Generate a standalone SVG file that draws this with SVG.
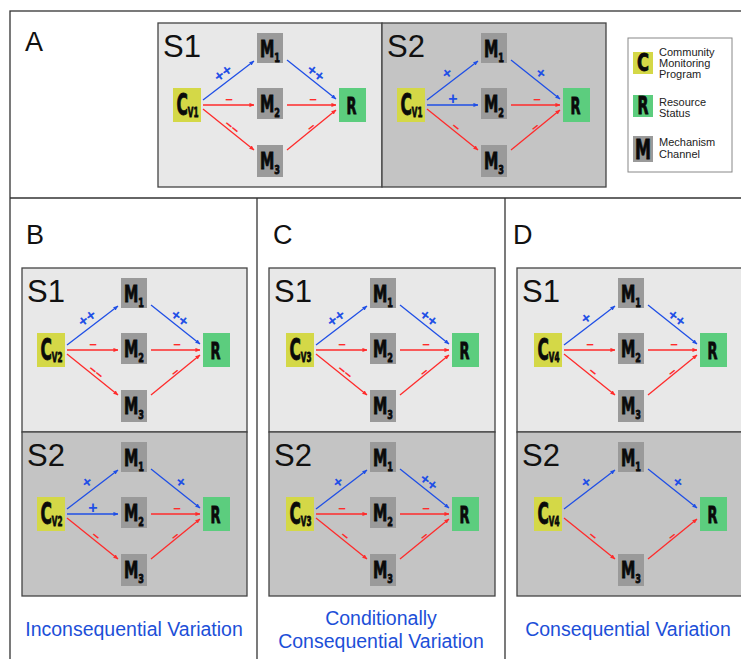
<svg xmlns="http://www.w3.org/2000/svg" width="741" height="659" viewBox="0 0 741 659">
<defs>
<style>
.frame{fill:none;stroke:#333;stroke-width:1.3}
.bg1{fill:#e8e8e8;stroke:#444;stroke-width:1.3}
.bg2{fill:#c4c4c4;stroke:#444;stroke-width:1.3}
.sl{font-family:"Liberation Sans",Arial,sans-serif;font-size:31px;fill:#111}
.pl{font-family:"Liberation Sans",Arial,sans-serif;font-size:27px;fill:#111}
.c{fill:#d4d847}
.r{fill:#5ccd7e}
.m{fill:#9a9a9a}
.nl{font-family:"Liberation Sans Narrow","DejaVu Sans Condensed","Liberation Sans",sans-serif;font-weight:bold;fill:#0a0a0a;stroke:#0a0a0a;stroke-width:0.8px}
.eb{stroke:#1f4fe6;stroke-width:1.3;fill:none;marker-end:url(#ab)}
.er{stroke:#ff2b2b;stroke-width:1.3;fill:none;marker-end:url(#ar)}
.lb{font-family:"Liberation Sans",Arial,sans-serif;font-size:16px;font-weight:bold;fill:#1f4fe6;text-anchor:middle;dominant-baseline:central}
.lr{font-family:"Liberation Sans",Arial,sans-serif;font-size:13px;font-weight:bold;fill:#ff2b2b;text-anchor:middle;dominant-baseline:central}
.lg{font-family:"Liberation Sans",Arial,sans-serif;font-size:11px;fill:#222}
.cap{font-family:"Liberation Sans",Arial,sans-serif;font-size:19.5px;fill:#1d4fd8;text-anchor:middle}
</style>
<marker id="ab" viewBox="0 0 6 6" refX="5.5" refY="3" markerWidth="5" markerHeight="5" markerUnits="userSpaceOnUse" orient="auto"><path d="M0,0.5 L6,3 L0,5.5z" fill="#1f4fe6"/></marker>
<marker id="ar" viewBox="0 0 6 6" refX="5.5" refY="3" markerWidth="5" markerHeight="5" markerUnits="userSpaceOnUse" orient="auto"><path d="M0,0.5 L6,3 L0,5.5z" fill="#ff2b2b"/></marker>
</defs>
<rect x="0" y="0" width="741" height="659" fill="#fff"/>
<g id="frame">
<rect class="frame" x="10" y="11" width="745" height="660"/>
<line class="frame" x1="10" y1="198" x2="741" y2="198"/>
<line class="frame" x1="257" y1="198" x2="257" y2="659"/>
<line class="frame" x1="505" y1="198" x2="505" y2="659"/>
<text class="pl" x="25" y="51">A</text>
<text class="pl" x="26" y="244">B</text>
<text class="pl" x="273" y="244">C</text>
<text class="pl" x="513" y="244">D</text>
</g>

<!-- Panel A S1 -->
<g id="A-S1" transform="translate(158,23)">
<rect class="bg1" x="0" y="0" width="224" height="164"/>
<text class="sl" x="5" y="34">S1</text>
<g id="A-S1-C"><rect class="c" x="15" y="65" width="28" height="34"/><text class="nl" x="18.5" y="92" font-size="30" textLength="22" lengthAdjust="spacingAndGlyphs">C<tspan font-size="14" dy="1.5">V1</tspan></text></g>
<g id="A-S1-M1"><rect class="m" x="99" y="10" width="26" height="30"/><text class="nl" x="102" y="33.5" font-size="23" textLength="20" lengthAdjust="spacingAndGlyphs">M<tspan font-size="13" dy="5">1</tspan></text></g>
<g id="A-S1-M2"><rect class="m" x="99" y="65" width="26" height="31"/><text class="nl" x="102" y="88.5" font-size="23" textLength="20" lengthAdjust="spacingAndGlyphs">M<tspan font-size="13" dy="5">2</tspan></text></g>
<g id="A-S1-M3"><rect class="m" x="99" y="122" width="26" height="32"/><text class="nl" x="102" y="145.5" font-size="23" textLength="20" lengthAdjust="spacingAndGlyphs">M<tspan font-size="13" dy="5.5">3</tspan></text></g>
<g id="A-S1-R"><rect class="r" x="181" y="65" width="27" height="34"/><text class="nl" x="188.5" y="90.5" font-size="23" textLength="10" lengthAdjust="spacingAndGlyphs">R</text></g>
<g id="A-S1-edges">
<line class="eb" x1="45" y1="77" x2="96" y2="38"/><line class="er" x1="45" y1="82" x2="96" y2="82"/><line class="er" x1="45" y1="86" x2="96" y2="127"/>
<line class="eb" x1="129" y1="37" x2="178" y2="76"/><line class="er" x1="129" y1="82" x2="178" y2="82"/><line class="er" x1="129" y1="127" x2="178" y2="87"/>
<text class="lb" transform="translate(65,50) rotate(-37)">++</text><text class="lr" transform="translate(71,76)">−</text><text class="lr" transform="translate(74,104) rotate(39)">−−</text>
<text class="lb" transform="translate(158,50) rotate(38)">++</text><text class="lr" transform="translate(155,76)">−</text><text class="lr" transform="translate(153,104) rotate(-39)">−</text>
</g>
</g>

<!-- Panel A S2 -->
<g id="A-S2" transform="translate(382,23)">
<rect class="bg2" x="0" y="0" width="224" height="164"/>
<text class="sl" x="5" y="34">S2</text>
<g id="A-S2-C"><rect class="c" x="15" y="65" width="28" height="34"/><text class="nl" x="18.5" y="92" font-size="30" textLength="22" lengthAdjust="spacingAndGlyphs">C<tspan font-size="14" dy="1.5">V1</tspan></text></g>
<g id="A-S2-M1"><rect class="m" x="99" y="10" width="26" height="30"/><text class="nl" x="102" y="33.5" font-size="23" textLength="20" lengthAdjust="spacingAndGlyphs">M<tspan font-size="13" dy="5">1</tspan></text></g>
<g id="A-S2-M2"><rect class="m" x="99" y="65" width="26" height="31"/><text class="nl" x="102" y="88.5" font-size="23" textLength="20" lengthAdjust="spacingAndGlyphs">M<tspan font-size="13" dy="5">2</tspan></text></g>
<g id="A-S2-M3"><rect class="m" x="99" y="122" width="26" height="32"/><text class="nl" x="102" y="145.5" font-size="23" textLength="20" lengthAdjust="spacingAndGlyphs">M<tspan font-size="13" dy="5.5">3</tspan></text></g>
<g id="A-S2-R"><rect class="r" x="181" y="65" width="27" height="34"/><text class="nl" x="188.5" y="90.5" font-size="23" textLength="10" lengthAdjust="spacingAndGlyphs">R</text></g>
<g id="A-S2-edges">
<line class="eb" x1="45" y1="77" x2="96" y2="38"/><line class="eb" x1="45" y1="82" x2="96" y2="82"/><line class="er" x1="45" y1="86" x2="96" y2="127"/>
<line class="eb" x1="129" y1="37" x2="178" y2="76"/><line class="er" x1="129" y1="82" x2="178" y2="82"/><line class="er" x1="129" y1="127" x2="178" y2="87"/>
<text class="lb" transform="translate(65,50) rotate(-37)">+</text><text class="lb" transform="translate(71,75)">+</text><text class="lr" transform="translate(74,104) rotate(39)">−</text>
<text class="lb" transform="translate(159,50) rotate(38)">+</text><text class="lr" transform="translate(155,76)">−</text><text class="lr" transform="translate(153,104) rotate(-39)">−</text>
</g>
</g>

<!-- Legend -->
<g id="legend">
<rect x="628" y="38" width="104" height="134" fill="#fff" stroke="#888" stroke-width="1"/>
<g id="legend-C"><rect class="c" x="633" y="52" width="20" height="22"/><text class="nl" x="637" y="71" font-size="24" textLength="12" lengthAdjust="spacingAndGlyphs">C</text><text class="lg" x="659" y="56">Community</text><text class="lg" x="659" y="67">Monitoring</text><text class="lg" x="659" y="78">Program</text></g>
<g id="legend-R"><rect class="r" x="633" y="95" width="20" height="22"/><text class="nl" x="637.5" y="114" font-size="24" textLength="11" lengthAdjust="spacingAndGlyphs">R</text><text class="lg" x="659" y="106">Resource</text><text class="lg" x="659" y="117">Status</text></g>
<g id="legend-M"><rect class="m" x="633" y="136" width="20" height="26"/><text class="nl" x="635" y="159" font-size="26" textLength="16" lengthAdjust="spacingAndGlyphs">M</text><text class="lg" x="659" y="146">Mechanism</text><text class="lg" x="659" y="158">Channel</text></g>
</g>

<!-- Panel B S1 -->
<g id="B-S1" transform="translate(22,268)">
<rect class="bg1" x="0" y="0" width="225" height="164"/>
<text class="sl" x="5" y="34">S1</text>
<g id="B-S1-C"><rect class="c" x="15" y="65" width="28" height="34"/><text class="nl" x="18.5" y="92" font-size="30" textLength="22" lengthAdjust="spacingAndGlyphs">C<tspan font-size="14" dy="1.5">V2</tspan></text></g>
<g id="B-S1-M1"><rect class="m" x="99" y="10" width="26" height="30"/><text class="nl" x="102" y="33.5" font-size="23" textLength="20" lengthAdjust="spacingAndGlyphs">M<tspan font-size="13" dy="5">1</tspan></text></g>
<g id="B-S1-M2"><rect class="m" x="99" y="65" width="26" height="31"/><text class="nl" x="102" y="88.5" font-size="23" textLength="20" lengthAdjust="spacingAndGlyphs">M<tspan font-size="13" dy="5">2</tspan></text></g>
<g id="B-S1-M3"><rect class="m" x="99" y="122" width="26" height="32"/><text class="nl" x="102" y="145.5" font-size="23" textLength="20" lengthAdjust="spacingAndGlyphs">M<tspan font-size="13" dy="5.5">3</tspan></text></g>
<g id="B-S1-R"><rect class="r" x="181" y="65" width="27" height="34"/><text class="nl" x="188.5" y="90.5" font-size="23" textLength="10" lengthAdjust="spacingAndGlyphs">R</text></g>
<g id="B-S1-edges">
<line class="eb" x1="45" y1="77" x2="96" y2="38"/><line class="er" x1="45" y1="82" x2="96" y2="82"/><line class="er" x1="45" y1="86" x2="96" y2="127"/>
<line class="eb" x1="129" y1="37" x2="178" y2="76"/><line class="er" x1="129" y1="82" x2="178" y2="82"/><line class="er" x1="129" y1="127" x2="178" y2="87"/>
<text class="lb" transform="translate(65,50) rotate(-37)">++</text><text class="lr" transform="translate(71,76)">−</text><text class="lr" transform="translate(74,104) rotate(39)">−−</text>
<text class="lb" transform="translate(158,50) rotate(38)">++</text><text class="lr" transform="translate(155,76)">−</text><text class="lr" transform="translate(153,104) rotate(-39)">−</text>
</g>
</g>

<!-- Panel B S2 -->
<g id="B-S2" transform="translate(22,432)">
<rect class="bg2" x="0" y="0" width="225" height="164"/>
<text class="sl" x="5" y="34">S2</text>
<g id="B-S2-C"><rect class="c" x="15" y="65" width="28" height="34"/><text class="nl" x="18.5" y="92" font-size="30" textLength="22" lengthAdjust="spacingAndGlyphs">C<tspan font-size="14" dy="1.5">V2</tspan></text></g>
<g id="B-S2-M1"><rect class="m" x="99" y="10" width="26" height="30"/><text class="nl" x="102" y="33.5" font-size="23" textLength="20" lengthAdjust="spacingAndGlyphs">M<tspan font-size="13" dy="5">1</tspan></text></g>
<g id="B-S2-M2"><rect class="m" x="99" y="65" width="26" height="31"/><text class="nl" x="102" y="88.5" font-size="23" textLength="20" lengthAdjust="spacingAndGlyphs">M<tspan font-size="13" dy="5">2</tspan></text></g>
<g id="B-S2-M3"><rect class="m" x="99" y="122" width="26" height="32"/><text class="nl" x="102" y="145.5" font-size="23" textLength="20" lengthAdjust="spacingAndGlyphs">M<tspan font-size="13" dy="5.5">3</tspan></text></g>
<g id="B-S2-R"><rect class="r" x="181" y="65" width="27" height="34"/><text class="nl" x="188.5" y="90.5" font-size="23" textLength="10" lengthAdjust="spacingAndGlyphs">R</text></g>
<g id="B-S2-edges">
<line class="eb" x1="45" y1="77" x2="96" y2="38"/><line class="eb" x1="45" y1="82" x2="96" y2="82"/><line class="er" x1="45" y1="86" x2="96" y2="127"/>
<line class="eb" x1="129" y1="37" x2="178" y2="76"/><line class="er" x1="129" y1="82" x2="178" y2="82"/><line class="er" x1="129" y1="127" x2="178" y2="87"/>
<text class="lb" transform="translate(65,50) rotate(-37)">+</text><text class="lb" transform="translate(71,75)">+</text><text class="lr" transform="translate(74,104) rotate(39)">−</text>
<text class="lb" transform="translate(159,50) rotate(38)">+</text><text class="lr" transform="translate(155,76)">−</text><text class="lr" transform="translate(153,104) rotate(-39)">−</text>
</g>
</g>

<!-- Panel C S1 -->
<g id="C-S1" transform="translate(269,268)">
<rect class="bg1" x="0" y="0" width="226" height="164"/>
<text class="sl" x="5" y="34">S1</text>
<g transform="translate(2,0)">
<g id="C-S1-C"><rect class="c" x="15" y="65" width="28" height="34"/><text class="nl" x="18.5" y="92" font-size="30" textLength="22" lengthAdjust="spacingAndGlyphs">C<tspan font-size="14" dy="1.5">V3</tspan></text></g>
<g id="C-S1-M1"><rect class="m" x="99" y="10" width="26" height="30"/><text class="nl" x="102" y="33.5" font-size="23" textLength="20" lengthAdjust="spacingAndGlyphs">M<tspan font-size="13" dy="5">1</tspan></text></g>
<g id="C-S1-M2"><rect class="m" x="99" y="65" width="26" height="31"/><text class="nl" x="102" y="88.5" font-size="23" textLength="20" lengthAdjust="spacingAndGlyphs">M<tspan font-size="13" dy="5">2</tspan></text></g>
<g id="C-S1-M3"><rect class="m" x="99" y="122" width="26" height="32"/><text class="nl" x="102" y="145.5" font-size="23" textLength="20" lengthAdjust="spacingAndGlyphs">M<tspan font-size="13" dy="5.5">3</tspan></text></g>
<g id="C-S1-R"><rect class="r" x="181" y="65" width="27" height="34"/><text class="nl" x="188.5" y="90.5" font-size="23" textLength="10" lengthAdjust="spacingAndGlyphs">R</text></g>
<g id="C-S1-edges">
<line class="eb" x1="45" y1="77" x2="96" y2="38"/><line class="er" x1="45" y1="82" x2="96" y2="82"/><line class="er" x1="45" y1="86" x2="96" y2="127"/>
<line class="eb" x1="129" y1="37" x2="178" y2="76"/><line class="er" x1="129" y1="82" x2="178" y2="82"/><line class="er" x1="129" y1="127" x2="178" y2="87"/>
<text class="lb" transform="translate(65,50) rotate(-37)">++</text><text class="lr" transform="translate(71,76)">−</text><text class="lr" transform="translate(74,104) rotate(39)">−−</text>
<text class="lb" transform="translate(158,50) rotate(38)">++</text><text class="lr" transform="translate(155,76)">−</text><text class="lr" transform="translate(153,104) rotate(-39)">−</text>
</g>
</g>
</g>

<!-- Panel C S2 -->
<g id="C-S2" transform="translate(269,432)">
<rect class="bg2" x="0" y="0" width="226" height="164"/>
<text class="sl" x="5" y="34">S2</text>
<g transform="translate(2,0)">
<g id="C-S2-C"><rect class="c" x="15" y="65" width="28" height="34"/><text class="nl" x="18.5" y="92" font-size="30" textLength="22" lengthAdjust="spacingAndGlyphs">C<tspan font-size="14" dy="1.5">V3</tspan></text></g>
<g id="C-S2-M1"><rect class="m" x="99" y="10" width="26" height="30"/><text class="nl" x="102" y="33.5" font-size="23" textLength="20" lengthAdjust="spacingAndGlyphs">M<tspan font-size="13" dy="5">1</tspan></text></g>
<g id="C-S2-M2"><rect class="m" x="99" y="65" width="26" height="31"/><text class="nl" x="102" y="88.5" font-size="23" textLength="20" lengthAdjust="spacingAndGlyphs">M<tspan font-size="13" dy="5">2</tspan></text></g>
<g id="C-S2-M3"><rect class="m" x="99" y="122" width="26" height="32"/><text class="nl" x="102" y="145.5" font-size="23" textLength="20" lengthAdjust="spacingAndGlyphs">M<tspan font-size="13" dy="5.5">3</tspan></text></g>
<g id="C-S2-R"><rect class="r" x="181" y="65" width="27" height="34"/><text class="nl" x="188.5" y="90.5" font-size="23" textLength="10" lengthAdjust="spacingAndGlyphs">R</text></g>
<g id="C-S2-edges">
<line class="eb" x1="45" y1="77" x2="96" y2="38"/><line class="er" x1="45" y1="82" x2="96" y2="82"/><line class="er" x1="45" y1="86" x2="96" y2="127"/>
<line class="eb" x1="129" y1="37" x2="178" y2="76"/><line class="er" x1="129" y1="82" x2="178" y2="82"/><line class="er" x1="129" y1="127" x2="178" y2="87"/>
<text class="lb" transform="translate(67,50) rotate(-37)">+</text><text class="lr" transform="translate(71,76)">−</text><text class="lr" transform="translate(74,104) rotate(39)">−</text>
<text class="lb" transform="translate(158,50) rotate(38)">++</text><text class="lr" transform="translate(155,76)">−</text><text class="lr" transform="translate(153,104) rotate(-39)">−</text>
</g>
</g>
</g>

<!-- Panel D S1 -->
<g id="D-S1" transform="translate(517,268)">
<rect class="bg1" x="0" y="0" width="230" height="164"/>
<text class="sl" x="5" y="34">S1</text>
<g transform="translate(2,0)">
<g id="D-S1-C"><rect class="c" x="15" y="65" width="28" height="34"/><text class="nl" x="18.5" y="92" font-size="30" textLength="22" lengthAdjust="spacingAndGlyphs">C<tspan font-size="14" dy="1.5">V4</tspan></text></g>
<g id="D-S1-M1"><rect class="m" x="99" y="10" width="26" height="30"/><text class="nl" x="102" y="33.5" font-size="23" textLength="20" lengthAdjust="spacingAndGlyphs">M<tspan font-size="13" dy="5">1</tspan></text></g>
<g id="D-S1-M2"><rect class="m" x="99" y="65" width="26" height="31"/><text class="nl" x="102" y="88.5" font-size="23" textLength="20" lengthAdjust="spacingAndGlyphs">M<tspan font-size="13" dy="5">2</tspan></text></g>
<g id="D-S1-M3"><rect class="m" x="99" y="122" width="26" height="32"/><text class="nl" x="102" y="145.5" font-size="23" textLength="20" lengthAdjust="spacingAndGlyphs">M<tspan font-size="13" dy="5.5">3</tspan></text></g>
<g id="D-S1-R"><rect class="r" x="181" y="65" width="27" height="34"/><text class="nl" x="188.5" y="90.5" font-size="23" textLength="10" lengthAdjust="spacingAndGlyphs">R</text></g>
<g id="D-S1-edges">
<line class="eb" x1="45" y1="77" x2="96" y2="38"/><line class="er" x1="45" y1="82" x2="96" y2="82"/><line class="er" x1="45" y1="86" x2="96" y2="127"/>
<line class="eb" x1="129" y1="37" x2="178" y2="76"/><line class="er" x1="129" y1="82" x2="178" y2="82"/><line class="er" x1="129" y1="127" x2="178" y2="87"/>
<text class="lb" transform="translate(67,50) rotate(-37)">+</text><text class="lr" transform="translate(71,76)">−</text><text class="lr" transform="translate(74,104) rotate(39)">−</text>
<text class="lb" transform="translate(158,50) rotate(38)">++</text><text class="lr" transform="translate(155,76)">−</text><text class="lr" transform="translate(153,104) rotate(-39)">−</text>
</g>
</g>
</g>

<!-- Panel D S2 -->
<g id="D-S2" transform="translate(517,432)">
<rect class="bg2" x="0" y="0" width="230" height="164"/>
<text class="sl" x="5" y="34">S2</text>
<g transform="translate(2,0)">
<g id="D-S2-C"><rect class="c" x="15" y="65" width="28" height="34"/><text class="nl" x="18.5" y="92" font-size="30" textLength="22" lengthAdjust="spacingAndGlyphs">C<tspan font-size="14" dy="1.5">V4</tspan></text></g>
<g id="D-S2-M1"><rect class="m" x="99" y="10" width="26" height="30"/><text class="nl" x="102" y="33.5" font-size="23" textLength="20" lengthAdjust="spacingAndGlyphs">M<tspan font-size="13" dy="5">1</tspan></text></g>
<g id="D-S2-M3"><rect class="m" x="99" y="122" width="26" height="32"/><text class="nl" x="102" y="145.5" font-size="23" textLength="20" lengthAdjust="spacingAndGlyphs">M<tspan font-size="13" dy="5.5">3</tspan></text></g>
<g id="D-S2-R"><rect class="r" x="181" y="65" width="27" height="34"/><text class="nl" x="188.5" y="90.5" font-size="23" textLength="10" lengthAdjust="spacingAndGlyphs">R</text></g>
<g id="D-S2-edges">
<line class="eb" x1="45" y1="77" x2="96" y2="38"/><line class="er" x1="45" y1="86" x2="96" y2="127"/>
<line class="eb" x1="129" y1="37" x2="178" y2="76"/><line class="er" x1="129" y1="127" x2="178" y2="87"/>
<text class="lb" transform="translate(67,50) rotate(-37)">+</text><text class="lr" transform="translate(74,104) rotate(39)">−</text>
<text class="lb" transform="translate(159,50) rotate(38)">+</text><text class="lr" transform="translate(153,104) rotate(-39)">−</text>
</g>
</g>
</g>

<g id="captions">
<text class="cap" x="134" y="636">Inconsequential Variation</text>
<text class="cap" x="381" y="625">Conditionally</text>
<text class="cap" x="381" y="648">Consequential Variation</text>
<text class="cap" x="628" y="636">Consequential Variation</text>
</g>
</svg>
